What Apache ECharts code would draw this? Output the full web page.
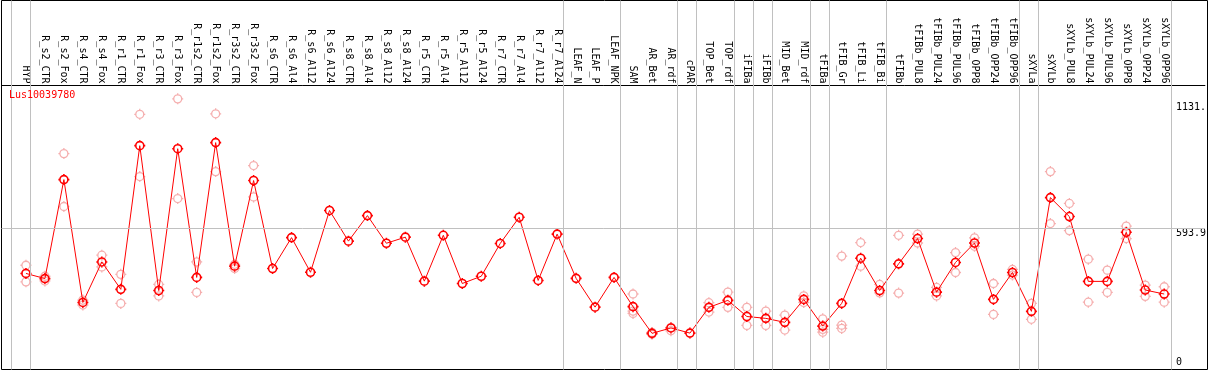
<!DOCTYPE html>
<html>
<head>
<meta charset="utf-8">
<script src="https://cdn.jsdelivr.net/npm/echarts@6/dist/echarts.min.js"></script>
<style>
  html, body { margin: 0; padding: 0; background: #fff; }
  #main { width: 1209px; height: 370px; }
</style>
</head>
<body>
<div id="main"></div>
<script>
const geneName = 'Lus10039780';

const categories = [
  'HYP', 'R_s2_CTR', 'R_s2_Fox', 'R_s4_CTR', 'R_s4_Fox', 'R_r1_CTR', 'R_r1_Fox', 'R_r3_CTR', 'R_r3_Fox',
  'R_r1s2_CTR', 'R_r1s2_Fox', 'R_r3s2_CTR', 'R_r3s2_Fox', 'R_s6_CTR', 'R_s6_Al4', 'R_s6_Al12', 'R_s6_Al24',
  'R_s8_CTR', 'R_s8_Al4', 'R_s8_Al12', 'R_s8_Al24', 'R_r5_CTR', 'R_r5_Al4', 'R_r5_Al12', 'R_r5_Al24',
  'R_r7_CTR', 'R_r7_Al4', 'R_r7_Al12', 'R_r7_Al24', 'LEAF_N', 'LEAF_P', 'LEAF_NPK', 'SAM', 'AR_Bet', 'AR_rdf',
  'cPAR', 'TOP_Bet', 'TOP_rdf', 'iFIBa', 'iFIBb', 'MID_Bet', 'MID_rdf', 'tFIBa', 'tFIB_Gr', 'tFIB_Li', 'tFIB_Bi',
  'tFIBb', 'tFIBb_PUL8', 'tFIBb_PUL24', 'tFIBb_PUL96', 'tFIBb_OPP8', 'tFIBb_OPP24', 'tFIBb_OPP96', 'sXYLa',
  'sXYLb', 'sXYLb_PUL8', 'sXYLb_PUL24', 'sXYLb_PUL96', 'sXYLb_OPP8', 'sXYLb_OPP24', 'sXYLb_OPP96'
];

// mean expression (red line)
const meanValues = [
  402, 380, 803, 278, 451, 334, 948, 329, 935, 385, 961, 433, 799, 423, 555, 407, 671,
  540, 649, 531, 557, 369, 565, 359, 390, 530, 642, 372, 570, 381, 258, 385, 260, 146, 169,
  147, 257, 287, 218, 210, 193, 291, 177, 274, 467, 329,
  443, 551, 322, 449, 532, 291, 406, 240,
  726, 645, 368, 368, 578, 331, 314
];

// replicates (pale circles), null = none shown
const rep1 = [
  437, 390, 914, 288, 480, 398, 1082, 355, 1148, 451, 1084, 441, 863, null, null, null, null,
  null, null, null, null, null, null, null, null, null, null, null, null, null, null, null, 314, 150, 171,
  null, 277, 322, 257, 241, 224, 306, 208, 476, 534, 355,
  565, 570, 342, 491, 554, 359, 419, 274,
  837, 701, 463, 416, 604, 352, 345
];
const rep2 = [
  402, 370, 688, 267, 430, 274, 816, 306, 722, 321, 837, 423, 729, null, null, null, null,
  null, null, null, null, null, null, null, null, null, null, null, null, null, null, null, 241, 142, 157,
  null, 237, 257, 180, 180, 160, 278, 163, 181, 433, 319,
  318, 532, 306, 406, 518, 227, 395, 206,
  615, 585, 279, 321, 551, 304, 279
];
const rep3 = [
  366, null, null, null, null, null, null, null, null, null, null, null, null, null, null, null, null,
  null, null, null, null, null, null, null, null, null, null, null, null, null, null, null, 231, null, null,
  null, null, null, null, null, null, null, 151, 167, null, null,
  null, null, null, null, null, null, null, null,
  null, null, null, null, null, null, null
];

const yLabelValues = [593.9, 1131];
const yZeroValue = [0];
const refLineValue = 593.9;
// category index after which a grey separator is drawn
const groupEnds = [-1, 0, 28, 31, 34, 35, 37, 38, 39, 41, 42, 45, 52, 53, 60];

const FONT = 'DejaVu Sans Mono';
const X_MIN = -1.2887, X_MAX = 62.145;
const Y_MIN = -8.5, Y_MAX = 1205;
const SEP_SHIFT = 0.237;
const MARK = 'path://M4,0A4,4,0,1,1,-4,0A4,4,0,1,1,4,0ZM0,-4L0,-5.5M0,4L0,5.5M-4,0L-5.5,0M4,0L5.5,0';

const idx = categories.map((c, i) => i);
const lineData = meanValues.map((v, i) => [i, v]);
const repData = [];
[rep1, rep2, rep3].forEach(r => r.forEach((v, i) => {
  if (v != null) repData.push([i, v]);
}));

const chart = echarts.init(document.getElementById('main'));

const yLabel = {
  inside: true,
  margin: 29,
  align: 'left',
  fontFamily: FONT,
  fontSize: 10,
  color: '#000'
};

chart.setOption({
  animation: false,
  title: {
    text: geneName,
    left: 9,
    top: 90,
    padding: 0,
    textStyle: { color: '#ff0000', fontFamily: FONT, fontSize: 10, fontWeight: 'normal' }
  },
  grid: [
    { left: 1.5, right: 1.5, top: 85.5, bottom: 0.5 },
    { left: 1.5, right: 1.5, top: 0.5, bottom: 0.5, show: true, borderColor: '#000', borderWidth: 1 }
  ],
  xAxis: [
    {
      gridIndex: 0,
      type: 'value',
      min: X_MIN,
      max: X_MAX,
      position: 'top',
      axisLine: { show: true, onZero: false, lineStyle: { color: '#000', width: 1 } },
      axisTick: { show: false },
      splitLine: { show: false },
      axisLabel: {
        customValues: idx,
        rotate: 90,
        margin: 2,
        fontFamily: FONT,
        fontSize: 10,
        color: '#000',
        formatter: v => categories[v]
      }
    },
    { gridIndex: 1, type: 'value', min: X_MIN, max: X_MAX, show: false }
  ],
  yAxis: [
    {
      gridIndex: 0,
      type: 'value',
      min: Y_MIN,
      max: Y_MAX,
      position: 'right',
      axisLine: { show: false },
      axisTick: { show: false },
      splitLine: { show: false },
      axisLabel: Object.assign({
        customValues: yLabelValues,
        verticalAlign: 'top',
        formatter: v => (v === 1131 ? '1131.' : String(v))
      }, yLabel)
    },
    {
      gridIndex: 0,
      type: 'value',
      min: Y_MIN,
      max: Y_MAX,
      position: 'right',
      axisLine: { show: false },
      axisTick: { show: false },
      splitLine: { show: false },
      axisLabel: Object.assign({
        customValues: yZeroValue,
        verticalAlign: 'bottom'
      }, yLabel)
    },
    { gridIndex: 1, type: 'value', min: 0, max: 1, show: false }
  ],
  series: [
    {
      // group separators through the whole box
      type: 'line',
      xAxisIndex: 1,
      yAxisIndex: 2,
      data: [],
      z: 1,
      silent: true,
      markLine: {
        silent: true,
        symbol: ['none', 'none'],
        label: { show: false },
        lineStyle: { color: '#c0c0c0', width: 1, type: 'solid' },
        data: groupEnds.map(k => ({ xAxis: k + SEP_SHIFT }))
      }
    },
    {
      type: 'line',
      xAxisIndex: 0,
      yAxisIndex: 0,
      data: [],
      z: 1,
      silent: true,
      markLine: {
        silent: true,
        symbol: ['none', 'none'],
        label: { show: false },
        lineStyle: { color: '#c0c0c0', width: 1, type: 'solid' },
        data: [{ yAxis: refLineValue }]
      }
    },
    {
      name: 'replicates',
      type: 'scatter',
      xAxisIndex: 0,
      yAxisIndex: 0,
      data: repData,
      symbol: MARK,
      symbolSize: 11,
      z: 2,
      itemStyle: { color: 'rgba(0,0,0,0)', borderColor: '#f29a9a', borderWidth: 1.3 }
    },
    {
      name: geneName,
      type: 'line',
      xAxisIndex: 0,
      yAxisIndex: 0,
      data: lineData,
      symbol: MARK,
      symbolSize: 11,
      showAllSymbol: true,
      z: 3,
      lineStyle: { color: '#ff0000', width: 1 },
      itemStyle: { color: 'rgba(0,0,0,0)', borderColor: '#ff0000', borderWidth: 1.6 }
    }
  ]
});
</script>
</body>
</html>
